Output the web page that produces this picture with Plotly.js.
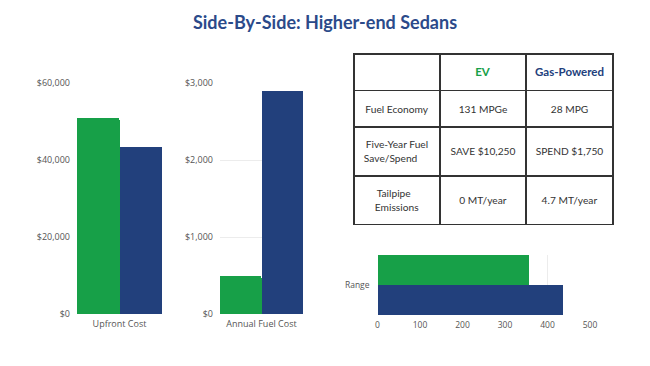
<!DOCTYPE html>
<html>
<head>
<meta charset="utf-8">
<script src="https://cdn.plot.ly/plotly-3.0.1.min.js"></script>
<style>html,body{margin:0;padding:0;background:#fff;}#chart{width:650px;height:366px;}</style>
</head>
<body>
<div id="chart"></div>
<script>
// ---- data ----
const upfrontCategory = ['Upfront Cost'];
const fuelCategory = ['Annual Fuel Cost'];
const rangeCategory = ['Range'];
const evUpfront = [51000];
const gasUpfront = [43400];
const evFuel = [500];
const gasFuel = [2900];
const evRange = [357];
const gasRange = [437];
const tableHeader = ['', 'EV', 'Gas-Powered'];
const rowLabels = ['Fuel Economy', 'Five-Year Fuel<br>Save/Spend', 'Tailpipe<br>Emissions'];
const evColumn = ['131 MPGe', 'SAVE $10,250', '0 MT/year'];
const gasColumn = ['28 MPG', 'SPEND $1,750', '4.7 MT/year'];
const upfrontTicks = [0, 20000, 40000, 60000];
const upfrontTickText = ['$0', '$20,000', '$40,000', '$60,000'];
const fuelTicks = [0, 1000, 2000, 3000];
const fuelTickText = ['$0', '$1,000', '$2,000', '$3,000'];
const rangeTicks = [0, 100, 200, 300, 400, 500];

// ---- style ----
const GREEN = '#17a048';
const BLUE = '#22407c';
const TEXT = '#333333';
const W = 650, H = 366;
const px = v => v / W;
const py = v => 1 - v / H;
const tickFont = {family: 'Open Sans, sans-serif', size: 9, color: '#555'};
const barMarker = c => ({color: c, cornerradius: 2});
const BODY = 10.2;   // visible table text size
const HEAD = 11.5;   // header text size

// ---- table text helpers (vertical placement inside top-aligned plotly table cells) ----
// every cell keeps a <br>, so plotly does not re-wrap it on spaces
const nb = s => s.replace(/ /g, '\u00a0');
const sized = (s, size) => '<span style="font-size:' + size + 'px">' + nb(s) + '</span>';
const ghostSup = '<span style="color:rgba(0,0,0,0)"><sup>.</sup></span>';
const nudge = (s, size) => s.split('<br>').map((line, i) =>
  (i === 0 ? ghostSup + sized(line, size) + ghostSup : sized(line, size))).join('<br>');
const lower = (s, size) => '<span style="color:rgba(0,0,0,0)">.</span><br>' + sized(s, size);

const columns = [rowLabels, evColumn, gasColumn];
const hdrColors = [TEXT, GREEN, BLUE];
const headerVals = [0, 1, 2].map(c => [
  lower(c === 0 ? tableHeader[c] : '<b>' + tableHeader[c] + '</b>', HEAD),
  lower(columns[c][0], BODY)
]);
const headerColors = hdrColors.map(col => [col, TEXT]);
const headerSizes = [0, 1, 2].map(() => [6.3, 6.3]);
const bodyCols = columns.map((col, c) => col.slice(1).map(v => (c === 0 ? nudge(v, BODY) : lower(v, BODY))));
const bodySizes = [0, 1, 2].map(c => [1, 2].map(() => (c === 0 ? 11 : 8.8)));

const traces = [
  {type: 'bar', x: upfrontCategory, y: evUpfront, marker: barMarker(GREEN), xaxis: 'x', yaxis: 'y', hoverinfo: 'none'},
  {type: 'bar', x: upfrontCategory, y: gasUpfront, marker: barMarker(BLUE), xaxis: 'x', yaxis: 'y', hoverinfo: 'none'},
  {type: 'bar', x: fuelCategory, y: evFuel, marker: barMarker(GREEN), xaxis: 'x2', yaxis: 'y2', hoverinfo: 'none'},
  {type: 'bar', x: fuelCategory, y: gasFuel, marker: barMarker(BLUE), xaxis: 'x2', yaxis: 'y2', hoverinfo: 'none'},
  {type: 'bar', orientation: 'h', y: rangeCategory, x: gasRange, marker: barMarker(BLUE), xaxis: 'x3', yaxis: 'y3', hoverinfo: 'none'},
  {type: 'bar', orientation: 'h', y: rangeCategory, x: evRange, marker: barMarker(GREEN), xaxis: 'x3', yaxis: 'y3', hoverinfo: 'none'},
  {
    type: 'table',
    domain: {x: [px(354), px(613)], y: [py(225), py(54)]},
    columnwidth: [86, 86, 87],
    header: {
      values: headerVals,
      align: 'center',
      height: 36.5,
      line: {color: '#333', width: 1.5},
      fill: {color: '#fff'},
      font: {family: 'Lato, sans-serif', size: headerSizes, color: headerColors}
    },
    cells: {
      values: bodyCols,
      align: 'center',
      height: 49,
      line: {color: '#333', width: 1.5},
      fill: {color: '#fff'},
      font: {family: 'Lato, sans-serif', size: bodySizes, color: TEXT}
    }
  }
];

const yBase = {
  showline: false, zeroline: false, gridcolor: '#ececec', gridwidth: 1,
  tickfont: tickFont, ticks: '', ticklabelstandoff: 6, fixedrange: true
};
const xCat = {
  showline: false, zeroline: false, showgrid: false, tickfont: tickFont, ticks: '',
  ticklabelstandoff: 3, fixedrange: true
};

const layout = {
  width: W, height: H,
  margin: {l: 0, r: 0, t: 0, b: 0},
  paper_bgcolor: '#fff', plot_bgcolor: '#fff',
  showlegend: false,
  barmode: 'group', bargap: 0, bargroupgap: 0,
  title: {
    text: '<b>Side-By-Side: Higher-end Sedans</b>',
    font: {family: 'Lato, sans-serif', size: 18, color: '#2b4a8a'},
    x: 0.5, xanchor: 'center', y: py(23), yanchor: 'middle', yref: 'paper'
  },
  xaxis: Object.assign({}, xCat, {domain: [px(77), px(162)], anchor: 'y'}),
  yaxis: Object.assign({}, yBase, {domain: [py(314), py(83)], anchor: 'x', range: [0, 60000],
    tickvals: upfrontTicks, ticktext: upfrontTickText}),
  xaxis2: Object.assign({}, xCat, {domain: [px(220), px(303)], anchor: 'y2'}),
  yaxis2: Object.assign({}, yBase, {domain: [py(314), py(83)], anchor: 'x2', range: [0, 3000],
    tickvals: fuelTicks, ticktext: fuelTickText}),
  xaxis3: Object.assign({}, yBase, {domain: [px(377.5), px(590)], anchor: 'y3', range: [0, 500],
    tickvals: rangeTicks, ticklabelstandoff: 3, tickfont: Object.assign({}, tickFont, {size: 8.5})}),
  yaxis3: Object.assign({}, xCat, {domain: [py(315), py(255)], anchor: 'x3', ticklabelstandoff: 7,
    tickfont: Object.assign({}, tickFont, {size: 8.5})})
};

Plotly.newPlot('chart', traces, layout, {displayModeBar: false, staticPlot: true});
</script>
</body>
</html>
